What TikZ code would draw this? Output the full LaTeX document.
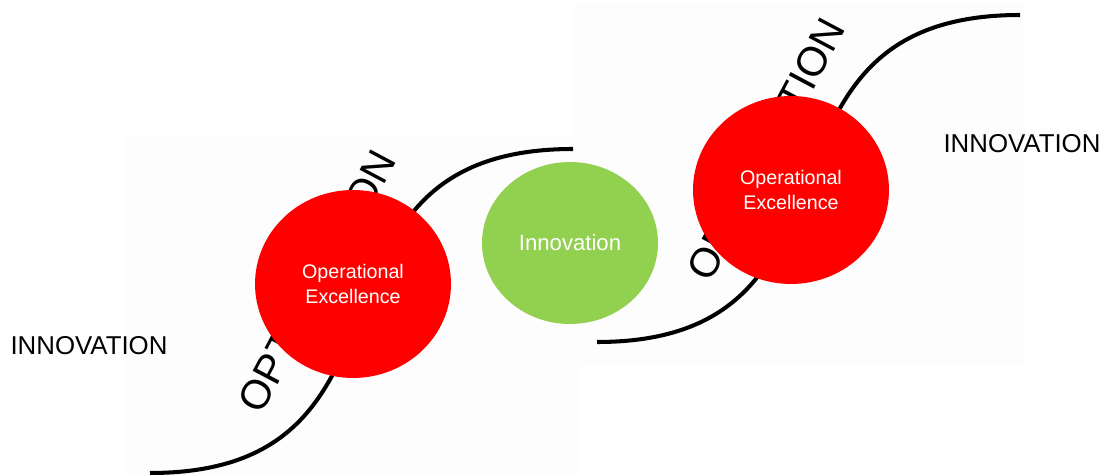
\documentclass[tikz,border=0pt]{standalone}
\usepackage{fontspec}
\setmainfont{Liberation Sans}
\usepackage{tikz}
\usetikzlibrary{shapes.geometric,positioning}
\definecolor{vermelho}{RGB}{255,0,0}
\definecolor{verdeino}{RGB}{146,208,80}
\definecolor{fundo}{RGB}{253,253,253}

\begin{document}
\begin{tikzpicture}[
	x=0.02cm, y=-0.02cm,
	excel/.style={ellipse, fill=vermelho, minimum width=3.92cm, minimum height=3.76cm, inner sep=0pt, text=white, align=center, font=\fontsize{11.2}{13.7}\selectfont},
	inov/.style={ellipse, fill=verdeino, minimum width=3.52cm, minimum height=3.24cm, inner sep=0pt, text=white, font=\fontsize{12.6}{15}\selectfont},
	rotulo/.style={text=black, inner sep=0pt, font=\fontsize{14.7}{17}\selectfont},
	otim/.style={text=black, inner sep=0pt, rotate=62, font=\fontsize{23.4}{28}\selectfont},
	curva/.style={line width=2.3pt, black},
]
\useasboundingbox (0,0) rectangle (1106,475);

% paineis de fundo
\fill[fundo] (125,137) rectangle (580,475);
\fill[fundo] (573,3) rectangle (1025,365);

% curvas em S
\coordinate (ini1) at (150,473);
\coordinate (fim1) at (573,149);
\coordinate (ini2) at (597,342);
\coordinate (fim2) at (1020,15);
\draw[curva] (ini1) .. controls (442,473) and (280,149) .. (fim1);
\draw[curva] (ini2) .. controls (889,342) and (727,15) .. (fim2);

\node[otim] (otim1) at (317,281) {OPTIMIZATION};
\node[otim] (otim2) at (766,149) {OPTIMIZATION};

\node[excel] (excel1) at (353,284) {Operational\\Excellence};
\node[excel] (excel2) at (791,190) {Operational\\Excellence};
\node[inov] (inov) at (570,243) {Innovation};

\node[rotulo] (ino1) at (89,346) {INNOVATION};
\node[rotulo] (ino2) at (1022,144) {INNOVATION};
\end{tikzpicture}
\end{document}
